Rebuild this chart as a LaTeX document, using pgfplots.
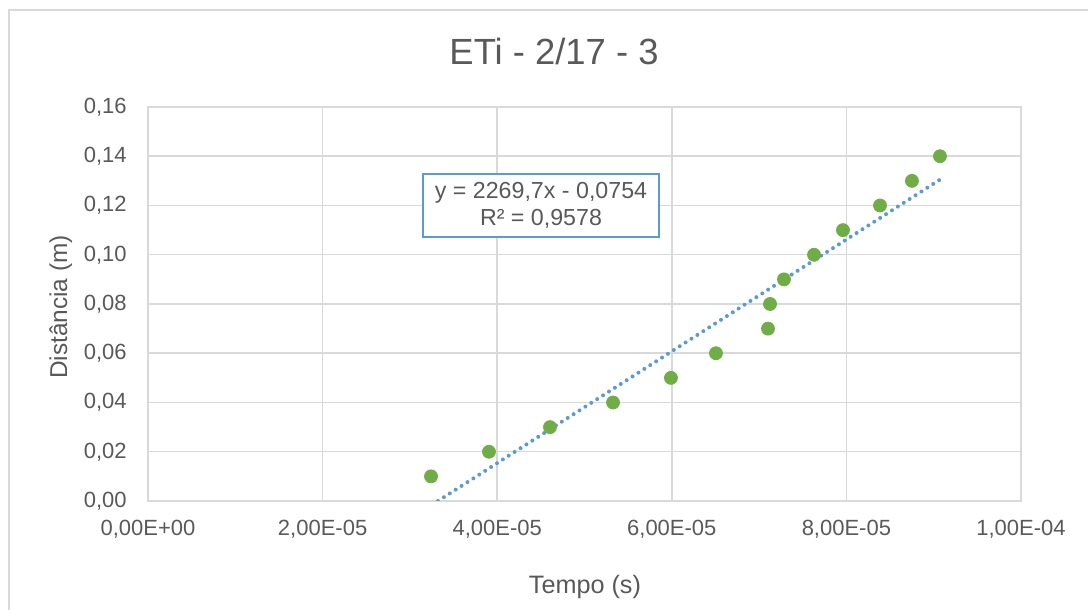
\documentclass[border=0pt]{standalone}
\usepackage{fontspec}
\setmainfont{Liberation Sans}
\usepackage{pgfplots}
\pgfplotsset{compat=1.18}
\definecolor{txt}{HTML}{595959}
\definecolor{gridc}{HTML}{D9D9D9}
\definecolor{ptc}{HTML}{70AD47}
\definecolor{trend}{HTML}{5B9BD5}
\begin{document}
\begin{tikzpicture}
\useasboundingbox (0,0) rectangle (544pt,305pt);
\draw[gridc, line width=0.75pt] (4.5pt,-5pt) -- (4.5pt,300pt) -- (560pt,300pt);
\begin{axis}[
  at={(74pt,54.5pt)}, anchor=south west,
  scale only axis, width=436.5pt, height=197pt,
  xmin=0, xmax=1e-4, ymin=0, ymax=0.16,
  scaled x ticks=false, scaled y ticks=false,
  xtick={0,2e-5,4e-5,6e-5,8e-5,1e-4},
  xticklabels={{0,00E+00},{2,00E-05},{4,00E-05},{6,00E-05},{8,00E-05},{1,00E-04}},
  ytick={0,0.02,0.04,0.06,0.08,0.10,0.12,0.14,0.16},
  yticklabels={{0,00},{0,02},{0,04},{0,06},{0,08},{0,10},{0,12},{0,14},{0,16}},
  major tick length=0pt,
  grid=major,
  grid style={gridc, line width=0.75pt},
  axis line style={gridc, line width=0.75pt},
  ticklabel style={font=\fontsize{11}{13}\selectfont, text=txt},
  yticklabel style={anchor=east, inner sep=0pt, xshift=-10.5pt},
  xticklabel style={anchor=north, inner sep=0pt, yshift=-9.5pt},
]
\addplot[only marks, mark=*, mark size=3.25pt, mark options={fill=ptc, draw=ptc}] coordinates {
(3.242e-5,0.01) (3.906e-5,0.02) (4.605e-5,0.03) (5.327e-5,0.04) (5.990e-5,0.05)
(6.506e-5,0.06) (7.102e-5,0.07) (7.125e-5,0.08) (7.285e-5,0.09) (7.629e-5,0.10)
(7.961e-5,0.11) (8.385e-5,0.12) (8.751e-5,0.13) (9.072e-5,0.14)
};
\addplot[trend, line width=2pt, line cap=round, dash pattern=on 0pt off 3.5pt] coordinates {
(3.322e-5,0.0) (9.072e-5,0.13051)
};
\end{axis}
\node[anchor=base, text=txt, font=\fontsize{18.2}{22}\selectfont] at (277pt,272.85pt) {ETi - 2/17 - 3};
\node[anchor=base, text=txt, font=\fontsize{12.6}{14}\selectfont] at (292.5pt,8.1pt) {Tempo (s)};
\node[anchor=base, rotate=90, text=txt, font=\fontsize{12.2}{14}\selectfont] at (33.5pt,151.5pt) {Distância (m)};
\node[draw=trend, line width=0.75pt, fill=white, text=txt, align=center,
  minimum width=118pt, minimum height=31.5pt, inner sep=0pt,
  font=\fontsize{11.6}{13.5}\selectfont] at (270.5pt,202.25pt) {y = 2269,7x - 0,0754\\R² = 0,9578};
\end{tikzpicture}
\end{document}
